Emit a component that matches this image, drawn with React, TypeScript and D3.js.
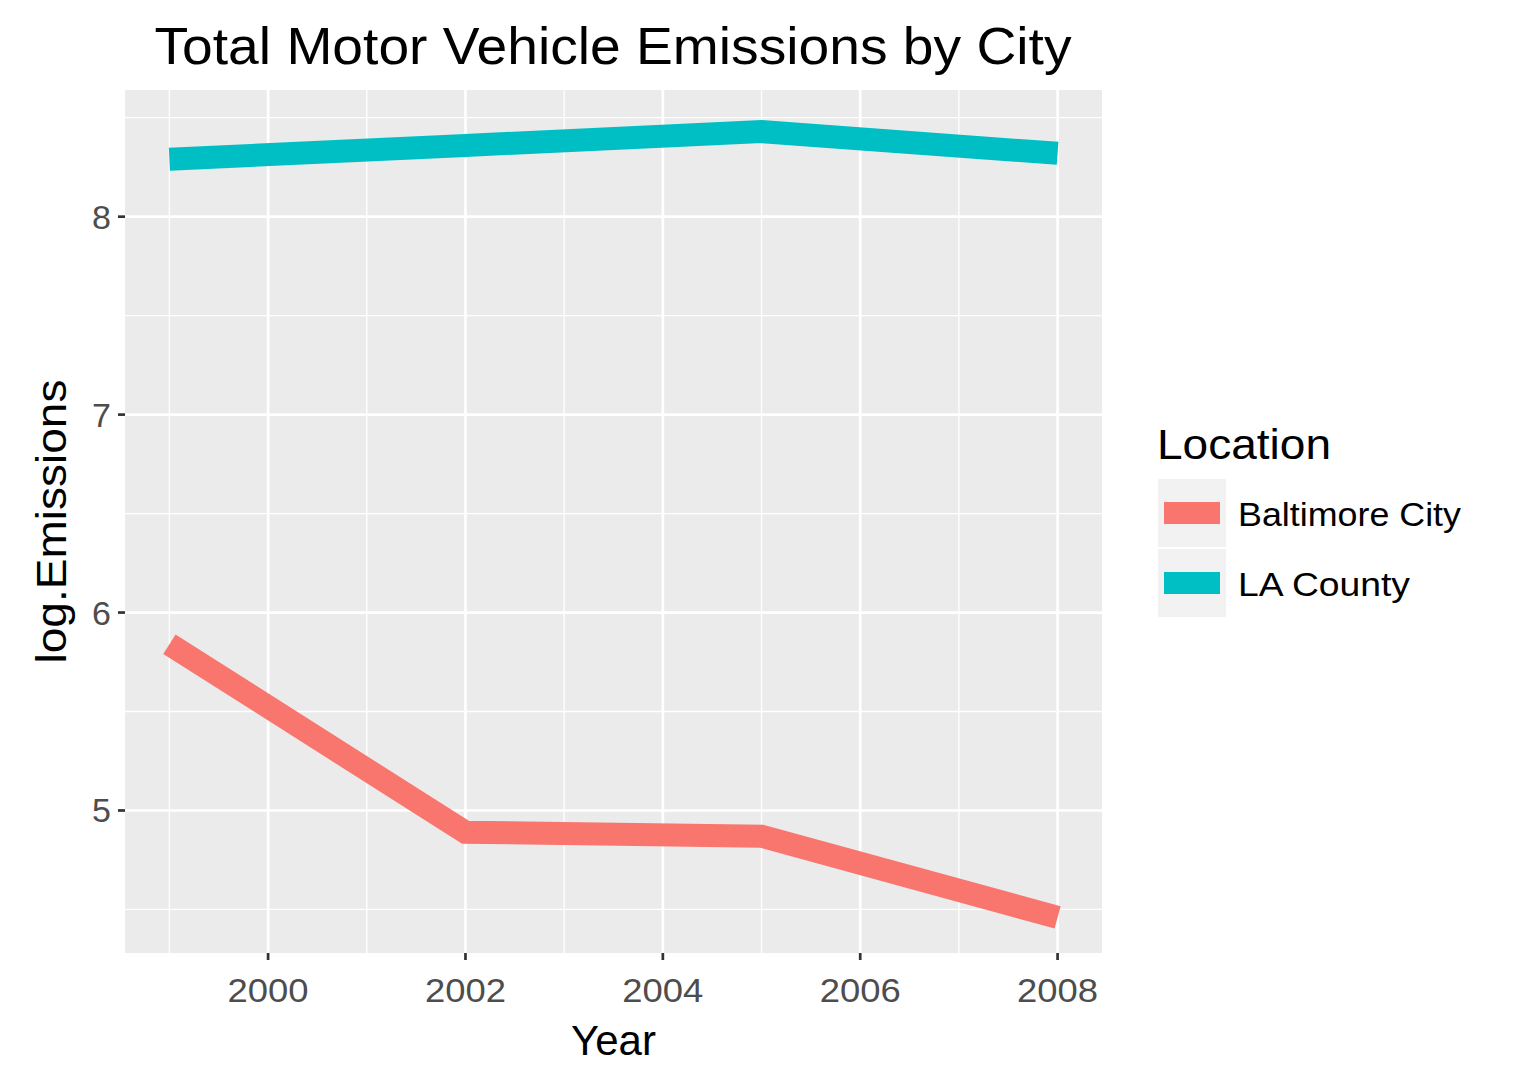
import React from "react";
import * as d3 from "d3";

const years = [1999, 2002, 2005, 2008];
const baltimore = [5.84, 4.89, 4.87, 4.46];
const laCounty = [8.29, 8.36, 8.43, 8.32];
const seriesNames = ["Baltimore City", "LA County"];
const seriesColors = ["#F8766D", "#00BFC4"];
const xTicks = [2000, 2002, 2004, 2006, 2008];
const yTicks = [5, 6, 7, 8];

const App: React.FC = () => {
  const width = 1537;
  const height = 1087;
  const panel = { left: 125, right: 1102, top: 90, bottom: 953 };

  const x = d3.scaleLinear().domain([1998.55, 2008.45]).range([panel.left, panel.right]);
  const y = d3.scaleLinear().domain([4.28, 8.64]).range([panel.bottom, panel.top]);

  const line = d3
    .line<number>()
    .x((_, i) => x(years[i]))
    .y(d => y(d));

  const xMinor = d3.range(1999, 2009, 2);
  const yMinor = [4.5, 5.5, 6.5, 7.5, 8.5];
  const font = "'Liberation Sans', Arial, sans-serif";

  return (
    <svg
      width={width}
      height={height}
      style={{ position: "absolute", left: 0, top: 0, background: "#fff" }}
      fontFamily={font}
    >
      <rect x={panel.left} y={panel.top} width={panel.right - panel.left} height={panel.bottom - panel.top} fill="#EBEBEB" />
      {/* minor grid */}
      {xMinor.map(v => (
        <line key={"xm" + v} x1={x(v)} x2={x(v)} y1={panel.top} y2={panel.bottom} stroke="#fff" strokeWidth={1.3} />
      ))}
      {yMinor.map(v => (
        <line key={"ym" + v} x1={panel.left} x2={panel.right} y1={y(v)} y2={y(v)} stroke="#fff" strokeWidth={1.3} />
      ))}
      {/* major grid */}
      {xTicks.map(v => (
        <line key={"xg" + v} x1={x(v)} x2={x(v)} y1={panel.top} y2={panel.bottom} stroke="#fff" strokeWidth={2.7} />
      ))}
      {yTicks.map(v => (
        <line key={"yg" + v} x1={panel.left} x2={panel.right} y1={y(v)} y2={y(v)} stroke="#fff" strokeWidth={2.7} />
      ))}
      {/* lines */}
      {[baltimore, laCounty].map((s, i) => (
        <path key={i} d={line(s) || ""} fill="none" stroke={seriesColors[i]} strokeWidth={23} />
      ))}
      {/* axes ticks */}
      {xTicks.map(v => (
        <g key={"xt" + v}>
          <line x1={x(v)} x2={x(v)} y1={panel.bottom} y2={panel.bottom + 7} stroke="#333" strokeWidth={2.7} />
          <text x={x(v)} y={panel.bottom + 49} textAnchor="middle" fontSize={34} fill="#4D4D4D" textLength={81} lengthAdjust="spacingAndGlyphs">{v}</text>
        </g>
      ))}
      {yTicks.map(v => (
        <g key={"yt" + v}>
          <line x1={panel.left - 7} x2={panel.left} y1={y(v)} y2={y(v)} stroke="#333" strokeWidth={2.7} />
          <text x={panel.left - 14} y={y(v) + 12} textAnchor="end" fontSize={34} fill="#4D4D4D">{v}</text>
        </g>
      ))}
      <text x={(panel.left + panel.right) / 2} y={1055} textAnchor="middle" fontSize={42}>Year</text>
      <text transform={`translate(66,${(panel.top + panel.bottom) / 2}) rotate(-90)`} textAnchor="middle" fontSize={42} textLength={284} lengthAdjust="spacingAndGlyphs">log.Emissions</text>
      <text x={613} y={64} textAnchor="middle" fontSize={52} textLength={917} lengthAdjust="spacingAndGlyphs">Total Motor Vehicle Emissions by City</text>
      {/* legend */}
      <text x={1157} y={459} fontSize={42} textLength={174} lengthAdjust="spacingAndGlyphs">Location</text>
      {seriesNames.map((n, i) => (
        <g key={n} transform={`translate(1158,${479 + i * 70})`}>
          <rect width={68} height={68} fill="#F2F2F2" />
          <rect x={6} y={23} width={56} height={22} fill={seriesColors[i]} />
          <text x={80} y={47} fontSize={34} textLength={i === 0 ? 223 : 172} lengthAdjust="spacingAndGlyphs">{n}</text>
        </g>
      ))}
    </svg>
  );
};

export default App;
